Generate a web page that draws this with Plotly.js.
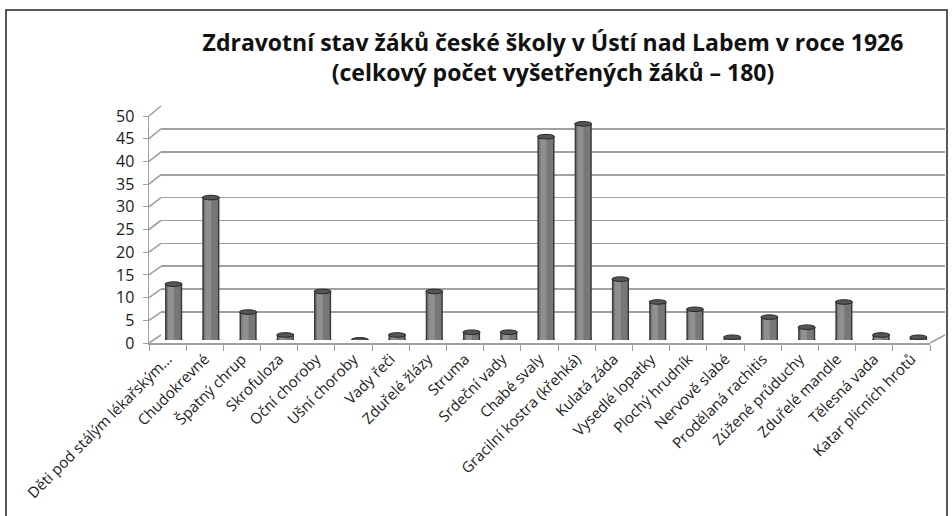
<!DOCTYPE html>
<html>
<head>
<meta charset="utf-8">
<script src="https://cdn.plot.ly/plotly-3.0.1.min.js"></script>
<style>html,body{margin:0;padding:0;background:#fff;}#chart{width:952px;height:516px;}</style>
</head>
<body>
<div id="chart"></div>
<script>
// ---- data (percent of 180 examined pupils) ----
const categories = [
  "Děti pod stálým lékařským...", "Chudokrevné", "Špatný chrup", "Skrofuloza",
  "Oční choroby", "Ušní choroby", "Vady řeči", "Zduřelé žlázy", "Struma",
  "Srdeční vady", "Chabé svaly", "Gracilní kostra (křehká)", "Kulatá záda",
  "Vysedlé lopatky", "Plochý hrudník", "Nervově slabé", "Prodělaná rachitis",
  "Zúžené průduchy", "Zduřelé mandle", "Tělesná vada", "Katar plicních hrotů"
];
const values = [12.2, 31.1, 6.1, 1.1, 10.6, 0, 1.1, 10.6, 1.7, 1.7, 44.4, 47.2,
                13.3, 8.3, 6.7, 0.6, 5.0, 2.8, 8.3, 1.1, 0.6];
const yTicks = [0, 5, 10, 15, 20, 25, 30, 35, 40, 45, 50];
const titleText = "Zdravotní stav žáků české školy v Ústí nad Labem v roce 1926<br>(celkový počet vyšetřených žáků – 180)";

// ---- geometry (pixels in 952x516 canvas) ----
const W = 952, H = 516;
const fx = p => p / W, fy = p => 1 - p / H;
const front = {x0: 149, x1: 930, yb: 343, yt: 116};
const back  = {x0: 161, x1: 945, yb: 335, yt: 106};
const mid   = {x0: 155, x1: 937, yb: 340, yt: 111};
const yMax = 50;
const idx = categories.map((c, i) => i);

const traces = [
  {type: "scatter", x: categories, y: values, xaxis: "x", yaxis: "y", mode: "markers",
   marker: {opacity: 0}, hoverinfo: "skip", showlegend: false},
  {type: "scatter", x: [0, 1], y: [0, 0], xaxis: "x2", yaxis: "y2", mode: "markers",
   marker: {opacity: 0}, hoverinfo: "skip", showlegend: false},
  {type: "bar", x: idx, y: values, xaxis: "x3", yaxis: "y3", width: 0.46,
   marker: {color: "#3c3c3c"}, hoverinfo: "skip", showlegend: false},
  {type: "bar", x: idx, y: values, xaxis: "x3", yaxis: "y3", width: 0.38,
   marker: {color: "#777777"}, hoverinfo: "skip", showlegend: false},
  {type: "bar", x: idx, y: values, xaxis: "x3", yaxis: "y3", width: 0.16, offset: -0.15,
   marker: {color: "#8f8f8f"}, hoverinfo: "skip", showlegend: false}
];

const shapes = [];
shapes.push({type: "rect", xref: "paper", yref: "paper", x0: fx(6), x1: fx(947), y0: fy(530), y1: fy(10),
  line: {color: "#222", width: 1.5}, fillcolor: "rgba(0,0,0,0)"});
yTicks.forEach(k => {
  const yf = front.yb - (front.yb - front.yt) * k / yMax;
  const yb = back.yb - (back.yb - back.yt) * k / yMax;
  shapes.push({type: "line", xref: "paper", yref: "paper", x0: fx(front.x0), y0: fy(yf), x1: fx(back.x0), y1: fy(yb),
    line: {color: "#a0a0a0", width: 1.6}, layer: "below"});
});
shapes.push({type: "line", xref: "paper", yref: "paper", x0: fx(front.x1), y0: fy(front.yb), x1: fx(back.x1), y1: fy(back.yb),
  line: {color: "#a0a0a0", width: 1.6}, layer: "below"});
const ew = 0.23, eh = 0.5;
values.forEach((v, i) => {
  shapes.push({type: "circle", xref: "x3", yref: "y3", x0: i - ew, x1: i + ew, y0: -eh, y1: eh,
    fillcolor: "#6a6a6a", line: {color: "#333", width: 1}, layer: "between"});
  shapes.push({type: "circle", xref: "x3", yref: "y3", x0: i - ew, x1: i + ew, y0: v - eh, y1: v + eh,
    fillcolor: "#555555", line: {color: "#262626", width: 1}});
});

const layout = {
  width: W, height: H,
  margin: {l: 0, r: 0, t: 0, b: 0},
  paper_bgcolor: "#fff", plot_bgcolor: "rgba(0,0,0,0)",
  showlegend: false,
  barmode: "overlay",
  font: {family: "'Open Sans', Lato, sans-serif", color: "#1a1a1a"},
  title: {text: titleText, x: fx(553), xanchor: "center", y: fy(51), yanchor: "middle",
          font: {family: "'Open Sans', sans-serif", size: 23, weight: "bold", color: "#111"}},
  xaxis: {domain: [fx(front.x0), fx(front.x1)], anchor: "y", type: "category",
          range: [-0.5, categories.length - 0.5], showgrid: false, zeroline: false,
          showline: true, linecolor: "#a0a0a0", linewidth: 1.5,
          ticks: "outside", tickson: "boundaries", ticklen: 6, tickcolor: "#a0a0a0",
          tickangle: -45, tickfont: {size: 15, color: "#1a1a1a"}, automargin: false},
  yaxis: {domain: [fy(front.yb), fy(front.yt)], anchor: "x", range: [0, yMax],
          tickvals: yTicks, showgrid: false, zeroline: false,
          showline: true, linecolor: "#a0a0a0", linewidth: 1.5,
          ticks: "outside", ticklen: 5, tickcolor: "#a0a0a0", ticklabelstandoff: 5,
          tickfont: {size: 16, color: "#1a1a1a"}, automargin: false},
  xaxis2: {domain: [fx(back.x0), fx(back.x1)], anchor: "y2", range: [0, 1], visible: false},
  yaxis2: {domain: [fy(back.yb), fy(back.yt)], anchor: "x2", range: [0, yMax],
           tickvals: yTicks, showgrid: true, gridcolor: "#a0a0a0", gridwidth: 1.6,
           showticklabels: false, ticks: "", zeroline: false, showline: false},
  xaxis3: {domain: [fx(mid.x0), fx(mid.x1)], anchor: "y3", range: [-0.5, categories.length - 0.5], visible: false},
  yaxis3: {domain: [fy(mid.yb), fy(mid.yt)], anchor: "x3", range: [0, yMax], visible: false},
  shapes: shapes
};

Plotly.newPlot("chart", traces, layout, {displayModeBar: false, staticPlot: true});
</script>
</body>
</html>
